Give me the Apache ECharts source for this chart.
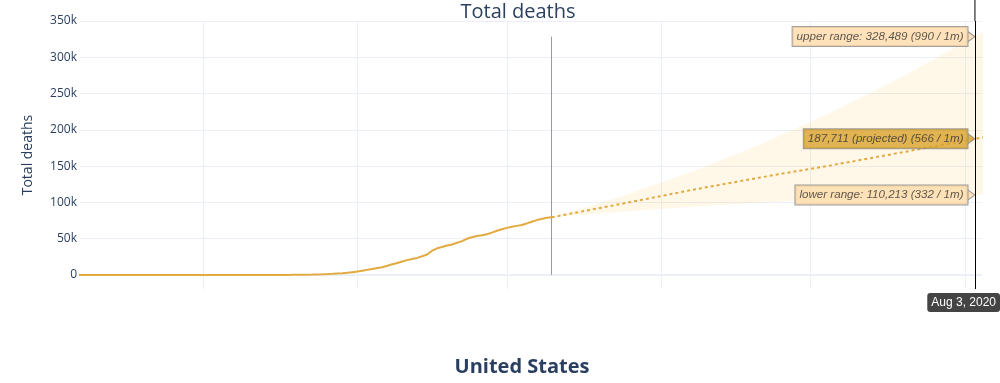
<!DOCTYPE html>
<html>
<head>
<meta charset="utf-8">
<script src="https://cdn.jsdelivr.net/npm/echarts@6/dist/echarts.min.js"></script>
<style>
html,body{margin:0;padding:0;background:#fff;}
#chart{width:1000px;height:383px;}
</style>
</head>
<body>
<div id="chart"></div>
<script>
// ---- data ----
const histStart = '2020-02-05';
const histDeaths = [
  0,0,0,0,0,0,0,0,0,0,0,0,0,0,0,0,0,0,0,0,0,0,0,0, // Feb 5 - Feb 28
  1, // Feb 29
  1,6,7,11,12,14,17,21,22,28,36,40,47,54,63,85,108,118,200,244,307,427,552,706,942,1209,1581,2026,2467,2978,3873, // March
  4757,5926,7087,8407,9619,10783,12722,14695,16478,18586,20463,22020,23529,25832,28325,33500,36773,38664,40661,42094,44444,46622,49954,51949,53755,54881,56219,58355,60967,62996, // April
  64943,66369,67682,68922,71064,73455,75662,77180,78795,79526 // May 1 - 10
];
const projDates = ['2020-05-10','2020-05-24','2020-06-07','2020-06-21','2020-07-05','2020-07-19','2020-08-03','2020-08-05'];
const projected = [79526, 98000, 117000, 134500, 151000, 168500, 187711, 190300];
const upperRange = [79526, 108000, 142000, 180000, 223500, 271500, 328489, 336500];
const lowerRange = [79526, 87000, 94000, 100000, 104000, 107500, 110213, 110600];
const perMillion = [990, 566, 332];
const hoverDate = '2020-08-03';
const todayDate = '2020-05-10';
const monthGrid = ['2020-03-01','2020-04-01','2020-05-01','2020-06-01','2020-07-01','2020-08-01'];
const yTicks = [0, 50000, 100000, 150000, 200000, 250000, 300000, 350000];
const xRange = ['2020-02-05T07:00:00Z', '2020-08-04T10:00:00Z'];
const yRange = [-19300, 350000];

// ---- helpers ----
const T = s => Date.parse(s.length === 10 ? s + 'T00:00:00Z' : s);
const DAY = 86400000;
const histData = histDeaths.map((v, i) => [T(histStart) + i * DAY, v]);
const projData = projDates.map((d, i) => [T(d), projected[i]]);
const lowData = projDates.map((d, i) => [T(d), lowerRange[i]]);
const widthData = projDates.map((d, i) => [T(d), upperRange[i] - lowerRange[i]]);
const hIdx = projDates.indexOf(hoverDate);
const hT = T(hoverDate);
const fmt = v => v.toLocaleString('en-US');
const hoverVals = [upperRange[hIdx], projected[hIdx], lowerRange[hIdx]];
const hoverTexts = [
  'upper range: ' + fmt(hoverVals[0]) + ' (' + perMillion[0] + ' / 1m)',
  fmt(hoverVals[1]) + ' (projected) (' + perMillion[1] + ' / 1m)',
  'lower range: ' + fmt(hoverVals[2]) + ' (' + perMillion[2] + ' / 1m)'
];
const hoverBg = ['#ffdba9', '#d9a22a', '#ffdba9'];
const GOLD = '#e2aa40';
const GRIDC = '#ebf0f8';
const FONT = "'Open Sans', 'Liberation Sans', sans-serif";

const chart = echarts.init(document.getElementById('chart'), null, {renderer: 'canvas'});

const option = {
  animation: false,
  backgroundColor: '#fff',
  grid: {left: 80, right: 18, top: 21, bottom: 94, containLabel: false},
  xAxis: {
    type: 'time',
    min: T(xRange[0]), max: T(xRange[1]),
    axisLine: {show: false}, axisTick: {show: false}, axisLabel: {show: false},
    splitLine: {show: false},
    axisPointer: {
      show: true, type: 'line', value: hT, status: 'show', snap: false, triggerTooltip: false,
      lineStyle: {color: '#000', width: 1, type: 'solid'},
      label: {
        show: true,
        formatter: () => new Date(hT).toLocaleDateString('en-US', {month: 'short', day: 'numeric', year: 'numeric', timeZone: 'UTC'}),
        backgroundColor: '#444', color: '#fff', padding: [4, 4, 3, 4], fontSize: 12,
        fontFamily: "'Liberation Sans', Arial, sans-serif", margin: 4, borderWidth: 0
      }
    }
  },
  yAxis: {
    type: 'value',
    min: yRange[0], max: yRange[1],
    name: 'Total deaths', nameLocation: 'middle', nameRotate: 90, nameGap: 45,
    nameTextStyle: {fontSize: 14, color: '#2a3f5f', fontFamily: FONT},
    axisLine: {show: false}, axisTick: {show: false},
    axisLabel: {
      customValues: yTicks,
      formatter: v => (v === 0 ? '0' : (v / 1000) + 'k'),
      fontSize: 12, color: '#2a3f5f', fontFamily: FONT, margin: 3
    },
    splitLine: {show: false}
  },
  graphic: [
    {id: 't1', type: 'text', x: 518, y: 12, silent: true,
      style: {text: 'Total deaths', align: 'center', verticalAlign: 'middle', textAlign: 'center', textVerticalAlign: 'middle',
        fontSize: 20, fontFamily: FONT, fill: '#2a3f5f'}},
    {id: 't2', type: 'text', x: 522, y: 367, silent: true,
      style: {text: 'United States', align: 'center', verticalAlign: 'middle', textAlign: 'center', textVerticalAlign: 'middle',
        fontSize: 20, fontWeight: 'bold', fontFamily: FONT, fill: '#2a3f5f'}}
  ],
  series: [
    {
      name: 'lowerBase', type: 'line', stack: 'band', data: lowData, symbol: 'none', z: 1,
      lineStyle: {opacity: 0}, silent: true,
      markLine: {
        silent: true, symbol: 'none', label: {show: false}, animation: false, z: 0,
        data: [
          ...yTicks.map(v => ({yAxis: v, lineStyle: {color: GRIDC, width: v === 0 ? 2 : 1, type: 'solid'}})),
          ...monthGrid.map(d => ({xAxis: T(d), lineStyle: {color: GRIDC, width: 1, type: 'solid'}}))
        ]
      }
    },
    {
      name: 'band', type: 'line', stack: 'band', data: widthData, symbol: 'none', z: 2,
      lineStyle: {opacity: 0}, areaStyle: {color: 'rgba(255,165,0,0.13)'}, silent: true
    },
    {
      name: 'history', type: 'line', data: histData, symbol: 'none', z: 4,
      lineStyle: {color: GOLD, width: 2}, silent: true,
      markLine: {
        silent: true, symbol: 'none', label: {show: false}, animation: false, z: 3,
        lineStyle: {color: '#9a9a9a', width: 1, type: 'solid'},
        data: [[{coord: [T(todayDate), 0]}, {coord: [T(todayDate), upperRange[hIdx]]}]]
      }
    },
    {
      name: 'projection', type: 'line', data: projData, symbol: 'none', z: 4,
      lineStyle: {color: GOLD, width: 2, type: [3, 3]}, silent: true
    },
    {
      name: 'hover', type: 'scatter', z: 10, silent: true,
      symbol: 'path://M0,0L7,5L0,10', symbolSize: [7, 10], symbolOffset: [-3.5, 0],
      data: hoverVals.map((v, i) => ({
        value: [hT, v],
        itemStyle: {color: hoverBg[i], borderColor: '#888', borderWidth: 1},
        label: {
          show: true, position: 'left', distance: 0, formatter: hoverTexts[i],
          backgroundColor: hoverBg[i], borderColor: '#888', borderWidth: 1,
          padding: [4, 4, 3, 4], color: '#333', fontSize: 11.6, fontStyle: 'italic',
          fontFamily: "'Liberation Sans', Arial, sans-serif"
        }
      }))
    }
  ]
};
chart.setOption(option);

// spike line segment above the plot area, positioned through the axis scale
const px = chart.convertToPixel({xAxisIndex: 0}, hT);
const topY = chart.convertToPixel({yAxisIndex: 0}, yRange[1]);
chart.setOption({
  graphic: [
    {id: 'spikeTop', type: 'line', silent: true, z: 20,
      shape: {x1: px, y1: 0, x2: px, y2: topY}, style: {stroke: '#000', lineWidth: 1}}
  ]
});
</script>
</body>
</html>
